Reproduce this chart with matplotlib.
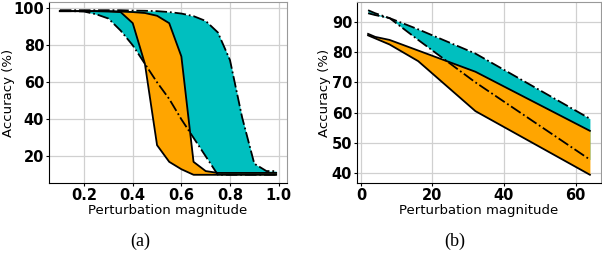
import numpy as np
import matplotlib
matplotlib.use('Agg')
import matplotlib.pyplot as plt

# (a) perturbation magnitude in [0.1, 1]
xs_a = [0.1, 0.15, 0.2, 0.25, 0.3, 0.35, 0.4, 0.45, 0.5, 0.55, 0.6, 0.65, 0.7,
        0.75, 0.8, 0.85, 0.9, 0.95, 0.99]
cyan_low_a = [98.5, 98.5, 98.3, 96.8, 94.5, 88, 80, 70, 60, 51, 40, 30, 20,
              10, 10, 10, 10, 10, 10]
cyan_high_a = [99, 99, 99, 99, 99, 99, 98.8, 98.7, 98.5, 98, 97.2, 95.8, 93.2,
               87, 72, 41, 16, 12, 12]
orange_low_a = [98.5, 98.5, 98.5, 98.5, 98.3, 98, 92, 70, 26, 17, 13, 10, 10,
                10, 10, 10, 10, 10, 10]
orange_high_a = [98.5, 98.5, 98.5, 98.5, 98.5, 98.3, 98, 97.5, 96, 92, 74, 17, 12,
                 11, 11, 11, 11, 11, 11]

# (b) perturbation magnitude in [2, 64]
xs_b = [2, 4, 8, 16, 32, 64]
cyan_low_b = [92.8, 92.2, 91.2, 84, 70, 44.5]
cyan_high_b = [93.8, 92.8, 91.2, 87.5, 79.5, 58]
orange_low_b = [85.5, 84.5, 82.5, 77, 60.5, 39.5]
orange_high_b = [86, 85, 84, 80.5, 73.5, 54]

CYAN = '#00BFBF'
ORANGE = '#FFA500'

fig = plt.figure(figsize=(6.02, 2.58), dpi=100)
ax1 = fig.add_axes([49/602, 1 - 183/258, 238/602, 181/258])
ax2 = fig.add_axes([357/602, 1 - 183/258, 244/602, 181/258])


def draw(ax, xs, cl, ch, ol, oh, xticks, xlabels, yticks, ylab_x):
    ax.fill_between(xs, cl, ch, color=CYAN, lw=0)
    ax.plot(xs, cl, 'k-.', lw=1.3)
    ax.plot(xs, ch, 'k-.', lw=1.3)
    ax.fill_between(xs, ol, oh, color=ORANGE, lw=0)
    ax.plot(xs, ol, 'k-', lw=1.3)
    ax.plot(xs, oh, 'k-', lw=1.3)
    ax.set_xticks(xticks)
    ax.set_xticklabels(xlabels, fontweight='bold', fontsize=10.5)
    ax.set_yticks(yticks)
    ax.set_yticklabels([str(t) for t in yticks], fontweight='bold', fontsize=10.5)
    ax.grid(True, color='#d0d0d0', lw=0.9)
    ax.set_axisbelow(True)
    ax.tick_params(length=2, pad=1.5)
    ax.set_xlabel('Perturbation magnitude', fontsize=9.5, labelpad=1)
    ax.set_ylabel('Accuracy (%)', fontsize=9.5)
    ax.yaxis.set_label_coords(ylab_x, 0.5)
    ax.spines['top'].set_color('#999999')
    ax.spines['right'].set_color('#999999')


draw(ax1, xs_a, cyan_low_a, cyan_high_a, orange_low_a, orange_high_a,
     [0.2, 0.4, 0.6, 0.8, 1.0], ['0.2', '0.4', '0.6', '0.8', '1.0'],
     [20, 40, 60, 80, 100], (15 - 49) / 238)
draw(ax2, xs_b, cyan_low_b, cyan_high_b, orange_low_b, orange_high_b,
     [0, 20, 40, 60], ['0', '20', '40', '60'], [40, 50, 60, 70, 80, 90],
     (331 - 357) / 244)

fig.text(140/602, 1 - 241/258, '(a)', family='Liberation Serif', fontsize=13,
         ha='center', va='center')
fig.text(455/602, 1 - 241/258, '(b)', family='Liberation Serif', fontsize=13,
         ha='center', va='center')

fig.savefig('out.png', dpi=100)
